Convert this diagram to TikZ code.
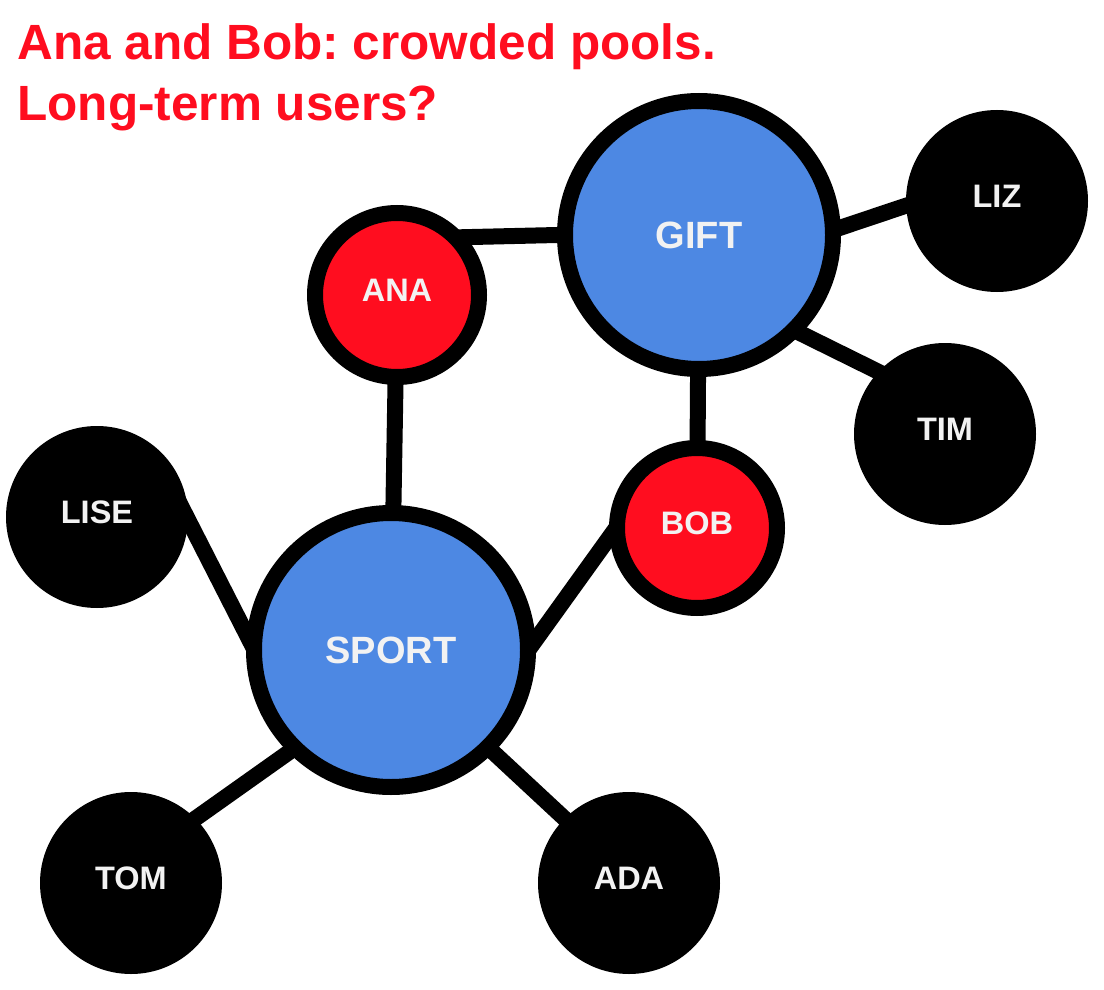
\documentclass[tikz,border=0pt]{standalone}
\usepackage{fontspec}
\setmainfont{Liberation Sans}
\usetikzlibrary{backgrounds}
\definecolor{poolblue}{HTML}{4D88E3}
\definecolor{pairred}{HTML}{FF0D1F}
\definecolor{labelgrey}{HTML}{F2F2F2}
\frenchspacing

\begin{document}
\begin{tikzpicture}[x=0.5pt,y=-0.5pt,inner sep=0pt,user node/.style={circle,fill=black,minimum size=91pt,text=labelgrey,text depth=5pt,font=\bfseries\fontsize{16.25}{18}\selectfont},pair node/.style={circle,draw=black,line width=8pt,fill=pairred,minimum size=82pt,text=labelgrey,text depth=5pt,font=\bfseries\fontsize{16.25}{18}\selectfont},pool node/.style={circle,draw=black,line width=8pt,fill=poolblue,minimum size=134pt,text=labelgrey,font=\bfseries\fontsize{19}{22}\selectfont},link/.style={line width=8pt,shorten <=-15pt,shorten >=-15pt},headline/.style={text=pairred,align=left,font=\bfseries\fontsize{24.75}{30.5}\selectfont}]
                \useasboundingbox (0,0) rectangle (1104,990);
                \node[headline,anchor=north west] (headline) at (17,23) {Ana and Bob: crowded pools.\\Long-term users?};

                \node[pool node] (gift) at (699,235) {GIFT};
                \node[pool node,minimum size=137pt] (sport) at (391,650) {SPORT};
                \node[pair node] (ana) at (397,295) {ANA};
                \node[pair node,minimum size=80pt] (bob) at (697,528) {BOB};
                \node[user node] (liz) at (997,201) {LIZ};
                \node[user node] (tim) at (945,434) {TIM};
                \node[user node] (lise) at (97,517) {LISE};
                \node[user node] (tom) at (131,883) {TOM};
                \node[user node] (ada) at (629,883) {ADA};

                \begin{pgfonlayer}{background}
                \path[link]
                    (ana.40) edge (gift.180)
                    (ana) edge (sport)
                    (gift) edge (bob)
                    (gift.3) edge (liz.183)
                    (gift.-44) edge (tim.137)
                    (sport.4) edge (bob.186)
                    (lise.-2) edge (sport.174)
                    (sport.-135) edge (tom.45)
                    (sport.-45) edge (ada.135)
                    ;
                \end{pgfonlayer}
            \end{tikzpicture}
\end{document}
